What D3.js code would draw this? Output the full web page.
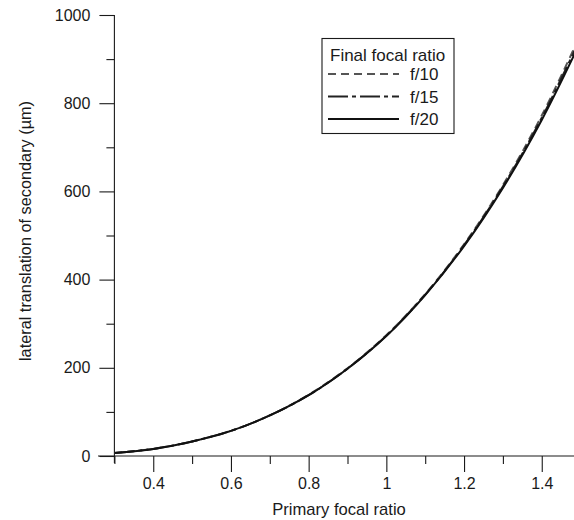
<!DOCTYPE html>
<html>
<head>
<meta charset="utf-8">
<script src="https://cdn.jsdelivr.net/npm/d3@7"></script>
<style>
  html, body { margin: 0; padding: 0; background: #fff; }
  svg { display: block; font-family: "Liberation Sans", Arial, sans-serif; }
</style>
</head>
<body>
<svg id="chart" width="574" height="520"></svg>
<script>
// Primary focal ratio samples
const primaryRatio = [0.3, 0.4, 0.5, 0.6, 0.7, 0.8, 0.9, 1.0, 1.1, 1.2, 1.3, 1.4, 1.5];
// Lateral translation of the secondary (µm) for each final focal ratio
const shiftF10 = [7, 16, 33, 57, 92, 139, 199, 274, 367, 480, 614, 772, 956];
const shiftF15 = [7, 16, 33, 57, 92, 138, 198, 273, 366, 478, 611, 767, 948];
const shiftF20 = [7, 16, 33, 57, 92, 138, 198, 272, 365, 476, 608, 762, 940];
const seriesNames = ["f/10", "f/15", "f/20"];
const legendTitle = "Final focal ratio";
const xTicks = [0.4, 0.6, 0.8, 1.0, 1.2, 1.4];
const xMinorTicks = [0.3, 0.5, 0.7, 0.9, 1.1, 1.3, 1.5];
const yTicks = [0, 200, 400, 600, 800, 1000];
const yMinorTicks = [100, 300, 500, 700, 900];
const xTitle = "Primary focal ratio";
const yTitle = "lateral translation of secondary (µm)";

const svg = d3.select("#chart");
const x = d3.scaleLinear().domain([0.3, 1.5]).range([114.4, 580.6]);
const y = d3.scaleLinear().domain([0, 1000]).range([456, 15]);
const ink = "#1a1a1a";

// clip the curves to the plotting area
svg.append("defs").append("clipPath").attr("id", "plot")
  .append("rect").attr("x", x(0.3)).attr("y", 0).attr("width", 600).attr("height", y(0) + 1);

// axes
const xAxis = svg.append("g").attr("transform", `translate(0,${y(0)})`)
  .call(d3.axisBottom(x).tickValues(xTicks).tickSize(16).tickPadding(6)
    .tickFormat(d => d3.format("~g")(d)));
xAxis.select(".domain").attr("d", `M98,0H600`);
svg.append("g").attr("transform", `translate(0,${y(0)})`)
  .call(d3.axisBottom(x).tickValues(xMinorTicks).tickSize(8).tickFormat(""))
  .select(".domain").remove();

const yAxis = svg.append("g").attr("transform", `translate(${x(0.3)},0)`)
  .call(d3.axisLeft(y).tickValues(yTicks).tickSize(15).tickPadding(9).tickFormat(d3.format("d")));
yAxis.select(".domain").attr("d", `M0,${y(1000)}V${y(0) + 7}`);
svg.append("g").attr("transform", `translate(${x(0.3)},0)`)
  .call(d3.axisLeft(y).tickValues(yMinorTicks).tickSize(8).tickFormat(""))
  .select(".domain").remove();

svg.selectAll(".domain, .tick line").attr("stroke", ink).attr("stroke-width", 1.1);
svg.selectAll(".tick text").attr("fill", ink).attr("font-size", 16)
  .attr("font-family", "Liberation Sans, Arial, sans-serif");
xAxis.selectAll(".tick text").attr("dy", "0.71em");

// axis titles
svg.append("text").attr("x", 339).attr("y", 515)
  .attr("text-anchor", "middle").attr("font-size", 16.6).attr("fill", ink).text(xTitle);
svg.append("text").attr("transform", `translate(31,231) rotate(-90)`)
  .attr("text-anchor", "middle").attr("font-size", 16.3).attr("fill", ink).text(yTitle);

// curves
const styles = [
  { data: shiftF10, dash: "8,5", color: "#555" },
  { data: shiftF15, dash: "20,4,4,4", color: "#222" },
  { data: shiftF20, dash: null, color: "#111" }
];
const line = d3.line().x(d => x(d[0])).y(d => y(d[1])).curve(d3.curveCatmullRom.alpha(0.5));
const plot = svg.append("g").attr("clip-path", "url(#plot)");
styles.forEach(s => {
  plot.append("path")
    .datum(primaryRatio.map((r, i) => [r, s.data[i]]))
    .attr("d", line)
    .attr("fill", "none")
    .attr("stroke", s.color)
    .attr("stroke-width", 2)
    .attr("stroke-dasharray", s.dash);
});

// legend
const lg = svg.append("g");
lg.append("rect").attr("x", 322).attr("y", 38.5).attr("width", 132).attr("height", 95)
  .attr("fill", "#fff").attr("stroke", ink).attr("stroke-width", 1.1);
lg.append("text").attr("x", 330).attr("y", 61).attr("font-size", 17).attr("fill", ink).text(legendTitle);
styles.forEach((s, i) => {
  const ly = 74 + i * 22.5;
  lg.append("line").attr("x1", 328).attr("x2", 399).attr("y1", ly).attr("y2", ly)
    .attr("stroke", s.color).attr("stroke-width", 2).attr("stroke-dasharray", s.dash);
  lg.append("text").attr("x", 410).attr("y", ly + 6).attr("font-size", 17).attr("fill", ink)
    .text(seriesNames[i]);
});
</script>
</body>
</html>
